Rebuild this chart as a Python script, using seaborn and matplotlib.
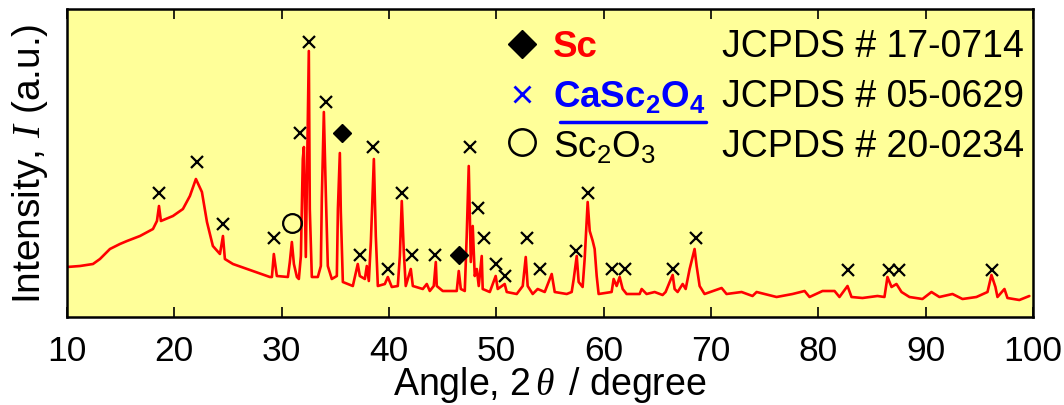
import matplotlib
matplotlib.use('Agg')
import matplotlib.pyplot as plt
import seaborn as sns
import pandas as pd

# ---- data ----
angle = [10.0, 11.21, 12.42, 13.07, 14.0, 14.93, 15.59, 16.80, 18.01, 18.38, 18.57, 18.75, 19.87, 20.80, 21.45,
         22.01, 22.57, 23.04, 23.59, 24.25, 24.53, 24.71, 25.46, 27.32, 28.90, 29.09, 29.27,
         29.55, 30.58, 30.76, 30.95, 31.14, 31.42, 31.60, 31.79, 31.97, 32.07, 32.25, 32.53,
         32.62, 32.81, 33.37, 33.65, 33.74, 33.93, 34.12, 34.30, 34.67, 35.14, 35.24, 35.42,
         35.51, 35.70, 36.63, 37.09, 37.28, 37.75, 37.93, 38.12, 38.31, 38.59, 38.77, 38.96,
         39.61, 39.89, 40.26, 40.82, 41.01, 41.19, 41.38, 41.56, 42.03, 42.22, 43.15, 43.52,
         43.80, 44.17, 44.36, 44.45, 45.01, 46.31, 46.50, 46.69, 47.06, 47.24, 47.43, 47.62,
         47.80, 47.99, 48.18, 48.36, 48.64, 48.73, 49.39, 49.94, 50.13, 50.78, 50.97, 51.90,
         52.46, 52.74, 52.92, 53.39, 53.85, 54.51, 55.16, 55.44, 56.56, 57.02, 57.21, 57.49,
         57.67, 58.04, 58.23, 58.51, 58.70, 58.98, 59.16, 59.35, 59.53, 60.74, 60.93, 61.21,
         61.49, 61.77, 62.14, 63.35, 63.54, 64.00, 64.75, 65.49, 65.77, 66.15, 66.43, 66.61,
         66.89, 67.36, 67.64, 68.01, 68.47, 68.66, 68.94, 69.40, 70.99, 71.45, 72.85, 73.87,
         74.25, 74.99, 76.11, 77.60, 78.72, 79.18, 80.39, 81.51, 81.97, 82.72, 83.09, 84.11,
         85.51, 86.16, 86.44, 86.82, 87.28, 87.75, 88.49, 89.70, 90.54, 91.28, 92.50, 93.43,
         94.73, 95.76, 96.13, 96.50, 96.69, 97.34, 97.62, 98.73, 99.66]
intensity = [50, 51, 53, 58, 68, 73, 76, 81, 88, 96, 111, 96, 101, 108, 121,
             138, 125, 95, 71, 63, 81, 58, 53, 46, 40, 40, 63,
             41, 40, 55, 75, 53, 40, 38, 61, 158, 170, 60, 266,
             108, 40, 40, 51, 118, 205, 121, 51, 38, 41, 108, 164,
             105, 35, 31, 53, 41, 38, 51, 36, 75, 158, 81, 31,
             33, 40, 30, 31, 61, 116, 65, 31, 48, 31, 28, 33,
             26, 31, 55, 31, 26, 26, 46, 28, 26, 81, 151, 55,
             91, 41, 48, 31, 61, 28, 25, 41, 28, 33, 25, 23,
             31, 60, 31, 23, 28, 25, 43, 25, 23, 25, 38, 61,
             35, 30, 58, 115, 86, 76, 68, 41, 23, 25, 38, 31,
             40, 28, 23, 23, 28, 23, 25, 22, 25, 35, 42, 28,
             25, 33, 28, 48, 68, 51, 31, 23, 29, 23, 25, 21,
             25, 23, 20, 23, 26, 20, 26, 26, 20, 31, 20, 19,
             21, 20, 40, 30, 33, 25, 20, 18, 25, 20, 23, 18,
             20, 25, 42, 30, 20, 28, 19, 17, 21]

# phase markers
casc_angle = [18.57, 22.10, 24.53, 29.27, 31.69, 32.53, 34.12, 38.49, 37.28, 39.89,
              41.19, 42.12, 44.26, 47.52, 48.27, 48.83, 49.94, 50.78, 52.83, 54.04,
              57.39, 58.51, 60.74, 61.95, 66.42, 68.56, 82.72, 86.63, 87.56, 96.22]
casc_height = [124, 155, 93, 79, 184, 275, 215, 170, 62, 48,
               124, 62, 62, 170, 109, 79, 53, 41, 79, 48,
               66, 124, 48, 48, 48, 79, 47, 47, 47, 47]
sc_angle = [35.61, 46.50]
sc_height = [184, 62]
sc2o3_angle = [30.95]
sc2o3_height = [94]

xticks = [10, 20, 30, 40, 50, 60, 70, 80, 90, 100]
legend_names = ['Sc', r'$\mathbf{CaSc_2O_4}$', r'$\mathrm{Sc_2O_3}$']
legend_cards = ['JCPDS # 17-0714', 'JCPDS # 05-0629', 'JCPDS # 20-0234']

# ---- style ----
sns.set_theme(style='ticks')
plt.rcParams['font.family'] = ['Liberation Sans', 'DejaVu Sans']
plt.rcParams['mathtext.fontset'] = 'custom'
plt.rcParams['mathtext.rm'] = 'Liberation Sans'
plt.rcParams['mathtext.bf'] = 'Liberation Sans:bold'
plt.rcParams['mathtext.it'] = 'Liberation Serif:italic'

fig = plt.figure(figsize=(10.64, 4.06), dpi=100)
ax = fig.add_axes([67/1064, 88/406, 966/1064, 308/406])
ax.set_facecolor('#FFFF99')

df = pd.DataFrame({'angle': angle, 'intensity': intensity})
sns.lineplot(data=df, x='angle', y='intensity', ax=ax, color='#FF0000', lw=1.9,
             estimator=None, sort=False)

ax.plot(casc_angle, casc_height, ls='none', marker='x', ms=8.5, mew=1.6, color='black')
ax.plot(sc_angle, sc_height, ls='none', marker='D', ms=9.5, color='black')
ax.plot(sc2o3_angle, sc2o3_height, ls='none', marker='o', ms=13.5, mew=1.6,
        mfc='none', mec='black')

ax.set_xlim(10, 100)
ax.set_ylim(0, 308)
ax.set_xticks(xticks)
ax.set_xticklabels([str(t) for t in xticks], fontsize=25.5)
ax.set_yticks([])
ax.tick_params(axis='x', direction='in', length=7, width=1.2, top=True, bottom=True,
               pad=12, colors='black')
for s in ax.spines.values():
    s.set_visible(True)
    s.set_linewidth(1.8)
    s.set_color('black')

ax.set_xlabel(r'Angle, 2$\,\theta\,$ / degree', fontsize=27, labelpad=-2, color='black')
ax.set_ylabel(r'Intensity, $I$ (a.u.)', fontsize=28, labelpad=12, color='black')

# ---- legend block ----
tr = ax.transAxes
ax.plot([0.471], [0.886], marker='D', ms=14.5, color='black', transform=tr, clip_on=False)
ax.plot([0.471], [0.724], marker='x', ms=12, mew=2, color='#0000FF', transform=tr, clip_on=False)
ax.plot([0.471], [0.568], marker='o', ms=19, mew=1.8, mfc='none', mec='black', transform=tr,
        clip_on=False)
base = [0.847, 0.685, 0.523]
cols = ['#FF0000', '#0000FF', 'black']
weights = ['bold', 'bold', 'normal']
for nm, cd, b, c, w in zip(legend_names, legend_cards, base, cols, weights):
    ax.text(0.503, b, nm, color=c, fontweight=w, fontsize=26.5, transform=tr, va='baseline')
    ax.text(0.678, b, cd, color='black', fontsize=27, transform=tr, va='baseline')
ax.plot([0.510, 0.661], [0.633, 0.633], color='#0000FF', lw=2.5, transform=tr, clip_on=False)

fig.savefig('out.png', dpi=100, facecolor='white')
